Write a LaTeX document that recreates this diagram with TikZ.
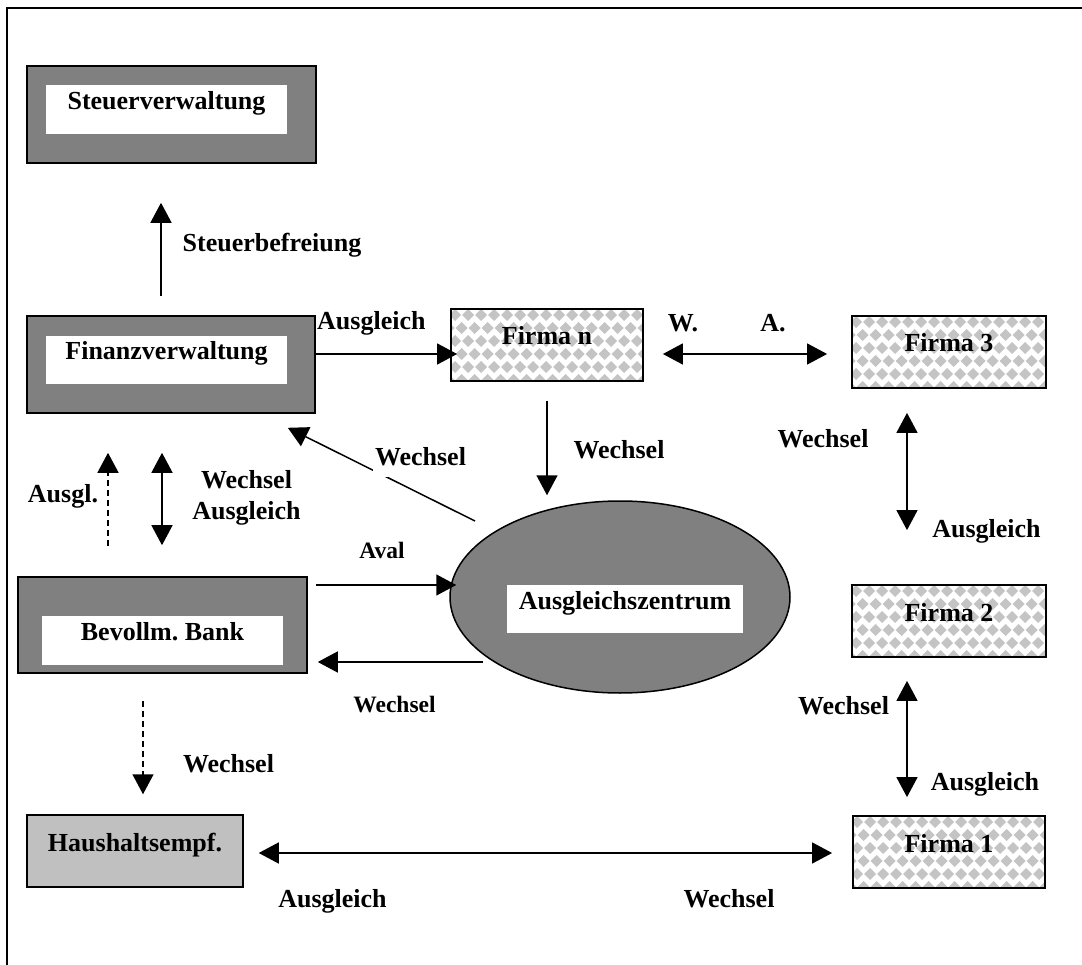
\documentclass[tikz,border=0pt]{standalone}
\usepackage{fontspec}
\setmainfont{Liberation Serif}
\usetikzlibrary{arrows.meta,shapes.geometric,calc}
\definecolor{boxgray}{HTML}{808080}
\definecolor{hausgray}{HTML}{C0C0C0}
\definecolor{patgray}{HTML}{C4C4C4}
\newcommand\lblfont{\fontsize{26}{30}\selectfont\bfseries}
\newcommand\lblsmallfont{\fontsize{23.5}{28}\selectfont\bfseries}
\frenchspacing
\tikzset{
  lbl/.style={font=\lblfont, inner sep=0pt, anchor=base},
  lblsmall/.style={font=\lblsmallfont, inner sep=0pt, anchor=base},
  outerbox/.style={draw=black, line width=1.6pt, fill=boxgray, inner sep=0pt},
  innerbox/.style={fill=white, inner sep=0pt, font=\lblfont, text height=10pt, text depth=10pt, minimum width=241pt, minimum height=49pt},
  firmabox/.style={draw=black, line width=1.8pt, inner sep=0pt, minimum width=193pt, minimum height=72pt, font=\lblfont, text height=10pt, text depth=10pt,
    path picture={
      \foreach \i in {-1,...,16}{\foreach \j in {0,...,3}{
        \fill[patgray] ($(path picture bounding box.north west)+(13*\i+4,26*\j+6)$) +(-6,0) -- +(0,-6) -- +(6,0) -- +(0,6) -- cycle;
        \fill[patgray] ($(path picture bounding box.north west)+(13*\i+10.5,26*\j+19)$) +(-6,0) -- +(0,-6) -- +(6,0) -- +(0,6) -- cycle;
      }}
    }},
  conn/.style={line width=1.5pt, -{Triangle[length=20pt,width=21pt]}},
  biconn/.style={line width=1.5pt, {Triangle[length=20pt,width=21pt]}-{Triangle[length=20pt,width=21pt]}},
  dashconn/.style={conn, dash pattern=on 6pt off 4pt},
}
\begin{document}
\begin{tikzpicture}[x=1pt,y=-1pt]
\useasboundingbox (0,0) rectangle (1082,965);
\draw[line width=2.5pt] (7,965) -- (7,8) -- (1082,8);

% boxes
\node[outerbox, minimum width=289pt, minimum height=97pt] (steuer) at (171.5,114.5) {};
\node[innerbox] (steuerin) at (166.5,110) {Steuerverwaltung};
\node[outerbox, minimum width=288pt, minimum height=97pt] (fin) at (171,364.5) {};
\node[innerbox, minimum height=48pt] (finin) at (166.5,360) {Finanzverwaltung};
\node[outerbox, minimum width=289pt, minimum height=96pt] (bank) at (162.5,625) {};
\node[innerbox] (bankin) at (162.5,640) {Bevollm. Bank};
\node[draw=black, line width=1.5pt, fill=hausgray, inner sep=0pt, minimum width=216pt, minimum height=72pt, font=\lblfont, text height=10pt, text depth=10pt] (haus) at (135,851) {Haushaltsempf.};
\node[ellipse, draw=black, line width=1.5pt, fill=boxgray, inner sep=0pt, minimum width=340pt, minimum height=192pt] (ell) at (620,597) {};
\node[innerbox, minimum width=236pt, minimum height=48pt] (ellin) at (625,609) {Ausgleichszentrum};

\node[firmabox, minimum width=192pt] (firman) at (547,345) {Firma n};
\node[firmabox, minimum width=194pt] (firma3) at (949,352) {Firma 3};
\node[firmabox, minimum width=194pt] (firma2) at (949,621) {Firma 2};
\node[firmabox, minimum width=192pt] (firma1) at (949,852) {Firma 1};

% connectors
\draw[conn, shorten <=19pt, shorten >=39pt] ([xshift=-10pt]fin.north) -- ([xshift=-10.5pt]steuer.south);
\draw[conn, shorten >=-7pt] ([yshift=10.5pt]fin.east) -- ([yshift=-9pt]firman.west);
\draw[biconn, shorten <=19pt, shorten >=24pt] ([yshift=-9pt]firman.east) -- ([yshift=-2pt]firma3.west);
\draw[conn, shorten <=19pt, shorten >=5pt] (firman.south) -- (firman.south |- ell.north);
\draw[conn] ($(ell.center)+(-145,-76)$) -- ($(fin.south east)+(-28,14)$);
\draw[conn, shorten <=8pt, shorten >=-7pt] ([yshift=40pt]bank.east) -- ([yshift=12pt]ell.west);
\draw[conn, shorten >=10pt] ($(ell.center)+(-137,65)$) -- ([yshift=-37pt]bank.east);
\draw[dashconn, shorten <=30pt, shorten >=39pt] ([xshift=-54.5pt]bank.north) -- ([xshift=-63pt]fin.south);
\draw[biconn, shorten <=39pt, shorten >=31pt] ([xshift=-9pt]fin.south) -- ([xshift=-0.5pt]bank.north);
\draw[dashconn, shorten <=27pt, shorten >=20pt] ([xshift=-19.5pt]bank.south) -- ([xshift=8pt]haus.north);
\draw[biconn, shorten <=15pt, shorten >=20pt] ([yshift=-2pt]haus.east) -- ([yshift=-1pt]firma1.west);
\draw[biconn, shorten <=24pt, shorten >=54pt] ([xshift=-42pt]firma3.south) -- ([xshift=-42pt]firma2.north);
\draw[biconn, shorten <=23pt, shorten >=18pt] ([xshift=-42pt]firma2.south) -- ([xshift=-42pt]firma1.north);

% labels
\node[lbl] (l1) at (272,252) {Steuerbefreiung};
\node[lbl, anchor=base west] (l2) at (317,330) {Ausgleich};
\node[lbl] (l3) at (683,332) {W.};
\node[lbl] (l4) at (773,332) {A.};
\node[lbl] (l5) at (619,458) {Wechsel};
\node[lbl, fill=white, inner xsep=2pt, text depth=12pt] (l6) at (420.5,465) {Wechsel};
\node[lbl] (l7) at (63,502) {Ausgl.};
\node[lbl] (l8a) at (246.5,489) {Wechsel};
\node[lbl] (l8b) at (246.5,519) {Ausgleich};
\node[lblsmall] (l9) at (382,558) {Aval};
\node[lblsmall] (l10) at (394.5,712) {Wechsel};
\node[lbl] (l11) at (228.5,772) {Wechsel};
\node[lbl] (l12) at (332.5,907) {Ausgleich};
\node[lbl] (l13) at (729,907) {Wechsel};
\node[lbl] (l14) at (823,447) {Wechsel};
\node[lbl] (l15) at (986.5,537) {Ausgleich};
\node[lbl] (l16) at (843.5,714) {Wechsel};
\node[lbl] (l17) at (985,790) {Ausgleich};
\end{tikzpicture}
\end{document}
